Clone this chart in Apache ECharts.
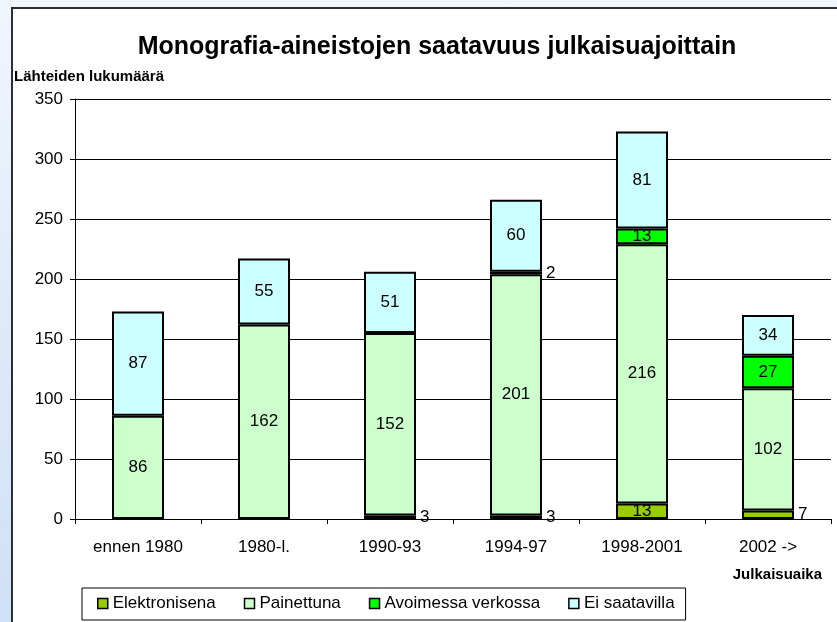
<!DOCTYPE html>
<html>
<head>
<meta charset="utf-8">
<script src="https://cdn.jsdelivr.net/npm/echarts@6/dist/echarts.min.js"></script>
<style>
    html, body {margin:0; padding:0; width:837px; height:622px; overflow:hidden;
        background: linear-gradient(to bottom, #f1f6fd 0%, #dde9f9 55%, #cfe1f7 100%);}
    #panel {position:absolute; left:11px; top:7px; width:900px; height:700px;
        background:#fff; border-left:2px solid #2b2f36; border-top:2px solid #2b2f36;}
    #chart {position:absolute; left:0; top:0; width:837px; height:622px;}
</style>
</head>
<body>
<div id="panel"></div>
<div id="chart"></div>
<script>
    var categories = ['ennen 1980', '1980-l.', '1990-93', '1994-97', '1998-2001', '2002 ->'];
    var seriesNames = ['Elektronisena', 'Painettuna', 'Avoimessa verkossa', 'Ei saatavilla'];
    var elektronisena = [0, 0, 3, 3, 13, 7];
    var painettuna = [86, 162, 152, 201, 216, 102];
    var avoimessa = [0, 0, 0, 2, 13, 27];
    var eiSaatavilla = [87, 55, 51, 60, 81, 34];
    var yTicks = [0, 50, 100, 150, 200, 250, 300, 350];

    var colors = ['#99cc00', '#ccffcc', '#00ff00', '#ccffff'];
    var font = 'Arial, "Liberation Sans", sans-serif';

    // zero segments are not drawn, small ones get their label beside the bar
    function toData(values) {
        return values.map(function (v) {
            if (v === 0) return {value: v, itemStyle: {borderWidth: 0}, label: {show: false}};
            if (v < 10) return {value: v, label: {position: 'right', distance: 4}};
            return v;
        });
    }

    function makeSeries(name, values, color) {
        return {
            name: name,
            type: 'bar',
            stack: 'all',
            barWidth: 52,
            data: toData(values),
            itemStyle: {color: color, borderColor: '#000', borderWidth: 2},
            label: {show: true, position: 'inside', color: '#000', fontSize: 17, fontFamily: font},
            emphasis: {disabled: true}
        };
    }

    var myChart = echarts.init(document.getElementById('chart'));
    var option = {
        animation: false,
        title: {
            text: 'Monografia-aineistojen saatavuus julkaisuajoittain',
            left: 432,
            textAlign: 'center',
            top: 30,
            textStyle: {fontSize: 25, fontWeight: 'bold', color: '#000', fontFamily: font}
        },
        graphic: [
            {type: 'text', left: 14, top: 69,
                style: {text: 'Lähteiden lukumäärä', font: 'bold 15px ' + font, fill: '#000'}},
            {type: 'text', right: 15, top: 567,
                style: {text: 'Julkaisuaika', font: 'bold 15px ' + font, fill: '#000'}}
        ],
        legend: {
            data: seriesNames,
            left: 82,
            top: 588,
            padding: [7, 11, 8, 15],
            itemGap: 28,
            itemWidth: 10,
            itemHeight: 10,
            icon: 'rect',
            borderColor: '#000',
            borderWidth: 1,
            itemStyle: {borderColor: '#000', borderWidth: 1.5},
            textStyle: {fontSize: 17, color: '#000', fontFamily: font}
        },
        grid: {left: 75, right: 6, top: 99, bottom: 103, containLabel: false},
        xAxis: {
            type: 'category',
            data: categories,
            axisLine: {lineStyle: {color: '#000', width: 1}},
            axisTick: {show: true, length: 5, lineStyle: {color: '#000'}},
            axisLabel: {color: '#000', fontSize: 17, margin: 20, fontFamily: font}
        },
        yAxis: {
            type: 'value',
            min: yTicks[0],
            max: yTicks[yTicks.length - 1],
            interval: 50,
            axisLine: {show: true, lineStyle: {color: '#000', width: 1}},
            axisTick: {show: true, length: 5, lineStyle: {color: '#000'}},
            axisLabel: {color: '#000', fontSize: 17, margin: 12, fontFamily: font},
            splitLine: {show: true, lineStyle: {color: '#000', width: 1}}
        },
        series: [
            makeSeries(seriesNames[0], elektronisena, colors[0]),
            makeSeries(seriesNames[1], painettuna, colors[1]),
            makeSeries(seriesNames[2], avoimessa, colors[2]),
            makeSeries(seriesNames[3], eiSaatavilla, colors[3])
        ]
    };
    myChart.setOption(option);
</script>
</body>
</html>
